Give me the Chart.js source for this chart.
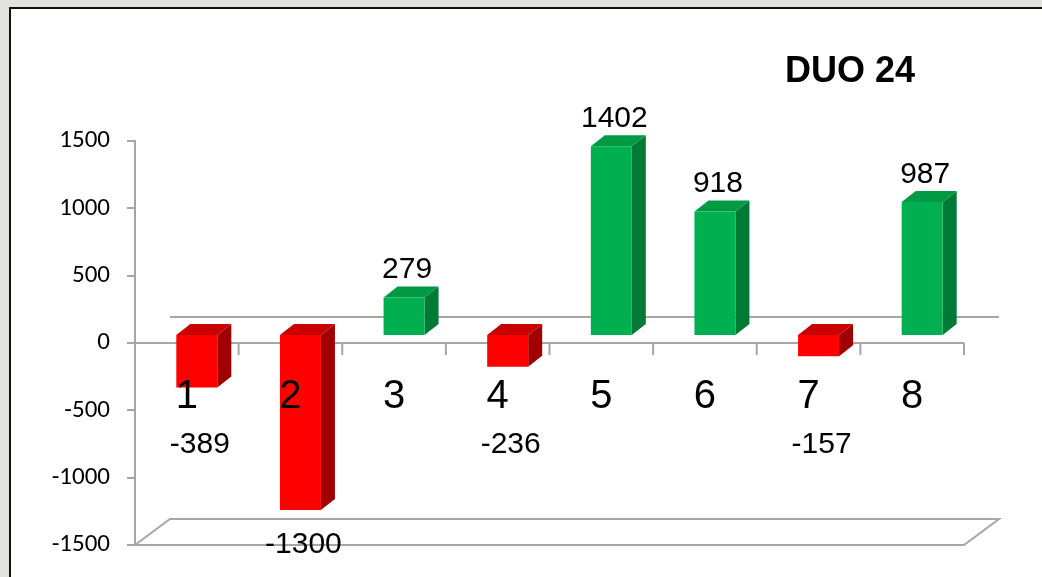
<!DOCTYPE html>
<html>
<head>
<meta charset="utf-8">
<script src="https://cdn.jsdelivr.net/npm/chart.js@4.4.0/dist/chart.umd.min.js"></script>
<style>
  html, body { margin: 0; padding: 0; }
  body { width: 1042px; height: 577px; background: #e4e2de; position: relative; overflow: hidden; }
  #panel { position: absolute; left: 9px; top: 7px; width: 1100px; height: 640px; background: #fff; border-left: 2px solid #111; border-top: 2px solid #111; }
  #chart { position: absolute; left: 0; top: 0; }
</style>
</head>
<body>
<div id="panel"></div>
<canvas id="chart" width="1042" height="577"></canvas>
<script>
const categories = ['1', '2', '3', '4', '5', '6', '7', '8'];
const values = [-389, -1300, 279, -236, 1402, 918, -157, 987];
const yTicks = [-1500, -1000, -500, 0, 500, 1000, 1500];
const chartTitle = 'DUO 24';

const AXIS = '#a6a6a6';
const faces = {
  pos: { front: '#00b050', top: '#009a45', side: '#007a35' },
  neg: { front: '#ff0000', top: '#c80000', side: '#a00000' },
};

// depth of the floor, offset of the bar plane and bar depth
const floorDx = 35, floorDy = -26;
const barOx = 10, barOy = -8;
const barW = 41, barDx = 14, barDy = -11;

function poly(ctx, pts, fill) {
  ctx.beginPath();
  ctx.moveTo(pts[0][0], pts[0][1]);
  pts.slice(1).forEach((p) => ctx.lineTo(p[0], p[1]));
  ctx.closePath();
  ctx.fillStyle = fill;
  ctx.fill();
}

const bars3d = {
  id: 'bars3d',
  afterDatasetsDraw(chart) {
    const ctx = chart.ctx;
    const area = chart.chartArea;
    const y = chart.scales.y;
    const meta = chart.getDatasetMeta(0);
    const zero = y.getPixelForValue(0);
    const catW = (area.right - area.left) / categories.length;

    ctx.save();
    ctx.strokeStyle = AXIS;
    ctx.lineWidth = 2;
    // back zero line
    ctx.beginPath();
    ctx.moveTo(area.left + floorDx, zero + floorDy);
    ctx.lineTo(area.right + floorDx, zero + floorDy);
    ctx.stroke();
    // floor
    const fy = area.bottom;
    ctx.beginPath();
    ctx.moveTo(area.left, fy);
    ctx.lineTo(area.right, fy);
    ctx.lineTo(area.right + floorDx, fy + floorDy);
    ctx.lineTo(area.left + floorDx, fy + floorDy);
    ctx.closePath();
    ctx.stroke();
    // category axis at zero
    ctx.beginPath();
    ctx.moveTo(area.left, zero);
    ctx.lineTo(area.right, zero);
    for (let i = 0; i <= categories.length; i++) {
      const tx = area.left + catW * i;
      ctx.moveTo(tx, zero);
      ctx.lineTo(tx, zero + 12);
    }
    ctx.stroke();

    // bars
    meta.data.forEach((bar, i) => {
      const v = values[i];
      const c = v >= 0 ? faces.pos : faces.neg;
      const cx = bar.x;
      const L = cx + barOx - barW / 2;
      const R = L + barW;
      const y0 = zero + barOy;
      const yv = y.getPixelForValue(v) + barOy;
      const top = Math.min(y0, yv);
      const bot = Math.max(y0, yv);
      poly(ctx, [[R, top], [R + barDx, top + barDy], [R + barDx, bot + barDy], [R, bot]], c.side);
      poly(ctx, [[L, top], [R, top], [R + barDx, top + barDy], [L + barDx, top + barDy]], c.top);
      poly(ctx, [[L, top], [R, top], [R, bot], [L, bot]], c.front);
    });

    // category labels
    ctx.fillStyle = '#000';
    ctx.textAlign = 'center';
    ctx.textBaseline = 'alphabetic';
    ctx.font = '40px "Liberation Sans", Arial, sans-serif';
    meta.data.forEach((bar, i) => {
      ctx.fillText(categories[i], bar.x, 408);
    });

    // value labels
    ctx.font = '30px "Liberation Sans", Arial, sans-serif';
    meta.data.forEach((bar, i) => {
      const v = values[i];
      const yv = y.getPixelForValue(v) + barOy;
      const ly = v >= 0 ? yv + barDy - 8 : Math.max(yv, 410) + 43;
      ctx.fillText(String(v), bar.x + 13, ly);
    });

    // title
    ctx.font = 'bold 36px "Liberation Sans", Arial, sans-serif';
    ctx.fillText(chartTitle, 850, 82);
    ctx.restore();
  },
};

new Chart(document.getElementById('chart'), {
  type: 'bar',
  data: {
    labels: categories,
    datasets: [{
      data: values,
      backgroundColor: 'rgba(0,0,0,0)',
      borderWidth: 0,
    }],
  },
  options: {
    responsive: false,
    animation: false,
    layout: { padding: { left: 0, right: 78, top: 141, bottom: 28 } },
    plugins: { legend: { display: false }, tooltip: { enabled: false }, title: { display: false } },
    scales: {
      x: { display: false },
      y: {
        min: yTicks[0],
        max: yTicks[yTicks.length - 1],
        afterBuildTicks(scale) { scale.ticks = yTicks.map((v) => ({ value: v })); },
        afterFit(scale) { scale.width = 135; },
        border: { display: true, color: AXIS, width: 2 },
        grid: { drawOnChartArea: false, drawTicks: true, tickLength: 8, color: AXIS, lineWidth: 2 },
        ticks: {
          padding: 17,
          color: '#000',
          font: { family: 'Carlito, Lato, sans-serif', size: 25 },
          callback: (v) => String(v),
        },
      },
    },
  },
  plugins: [bars3d],
});
</script>
</body>
</html>
